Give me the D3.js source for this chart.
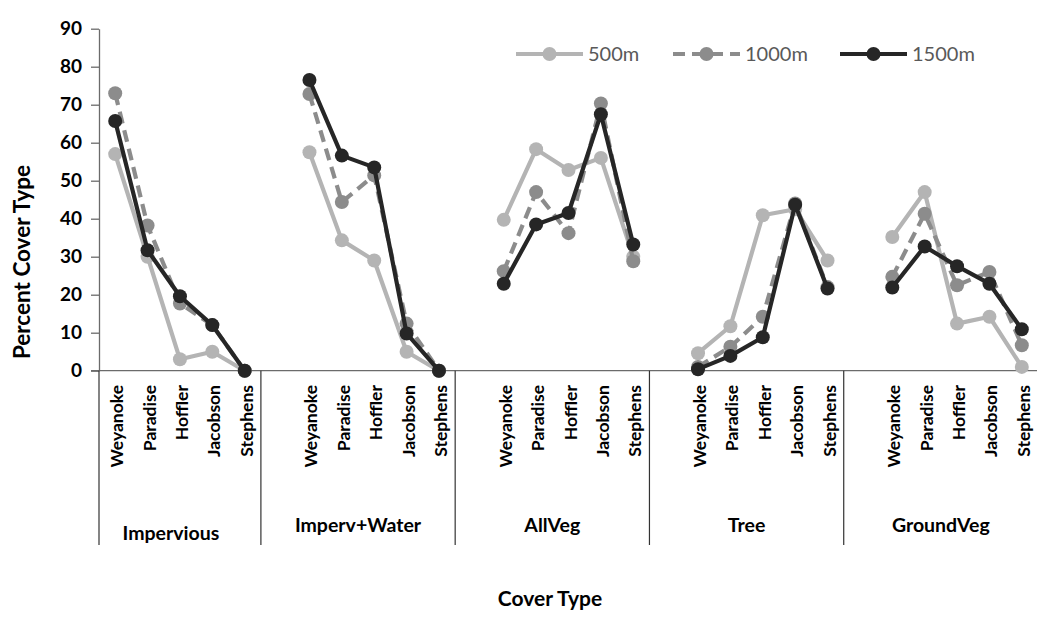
<!DOCTYPE html>
<html><head><meta charset="utf-8">
<script src="https://cdn.jsdelivr.net/npm/d3@7"></script>
<style>body{margin:0;background:#fff}svg{display:block}</style>
</head><body>
<svg id="c" width="1037" height="624"></svg>
<script>
const groups = ["Impervious","Imperv+Water","AllVeg","Tree","GroundVeg"];
const sites = ["Weyanoke","Paradise","Hoffler","Jacobson","Stephens"];
const seriesNames = ["500m","1000m","1500m"];
// values per series, 5 sites per group in group order
const v500  = [57,30,3,5,0,   57.5,34.3,29,5,0,   39.7,58.3,52.8,56,30,   4.6,11.7,40.9,42.5,29,   35.2,47,12.4,14.2,1];
const v1000 = [73,38.2,17.7,12,0,   72.8,44.4,51.4,12.4,0,   26.2,47,36.2,70.3,28.8,   1,6.3,14.2,44,22,   24.7,41.3,22.5,26,6.7];
const v1500 = [65.7,31.7,19.6,12,0,   76.5,56.6,53.5,9.8,0,   22.9,38.5,41.5,67.5,33.2,   0.4,3.9,8.8,43.7,21.6,   21.9,32.7,27.5,22.9,10.9];
const yTicks = [0,10,20,30,40,50,60,70,80,90];

const colors = {"500m":"#b4b4b4","1000m":"#8c8c8c","1500m":"#262626"};
const dashes = {"500m":null,"1000m":"12,7","1500m":null};
const values = {"500m":v500,"1000m":v1000,"1500m":v1500};

const svg = d3.select("#c");
const mLeft = 99, mRight = 1038, mTop = 28.7, mBottom = 370.7, sepBottom = 545;

// slot keys: a blank slot precedes every group but the first
const slots = [];
groups.forEach((g,gi)=>{
  if(gi>0) slots.push("blank"+gi);
  sites.forEach(s=>slots.push(g+"|"+s));
});
const x = d3.scaleBand().domain(slots).range([mLeft,mRight]).padding(0);
const y = d3.scaleLinear().domain([0,90]).range([mBottom,mTop]);

// y axis
const yAxis = svg.append("g").attr("transform",`translate(${mLeft},0)`)
  .call(d3.axisLeft(y).tickValues(yTicks).tickSize(8).tickSizeOuter(0));
yAxis.select(".domain").attr("stroke","#6b6b6b").attr("stroke-width",1.3);
yAxis.selectAll(".tick line").attr("stroke","#6b6b6b").attr("stroke-width",1.3);
yAxis.selectAll(".tick text").attr("font-family","Lato, sans-serif").attr("font-weight","bold")
  .attr("font-size",19).attr("fill","#000").attr("x",-17);

// x axis baseline
svg.append("line").attr("x1",mLeft-8).attr("x2",mRight).attr("y1",mBottom).attr("y2",mBottom)
  .attr("stroke","#6b6b6b").attr("stroke-width",1.3);

// group separators
const seps = [mLeft];
groups.forEach((g,gi)=>{ seps.push(x(g+"|"+sites[4])+x.bandwidth()); });
svg.selectAll(".sep").data(seps).enter().append("line")
  .attr("x1",d=>d).attr("x2",d=>d).attr("y1",mBottom).attr("y2",sepBottom)
  .attr("stroke","#333").attr("stroke-width",1.2);

// site labels
groups.forEach(g=>{
  sites.forEach(s=>{
    const cx = x(g+"|"+s)+x.bandwidth()/2;
    svg.append("text").text(s)
      .attr("transform",`translate(${cx+8},385) rotate(-90)`)
      .attr("text-anchor","end")
      .attr("font-family","Lato, sans-serif").attr("font-weight","bold")
      .attr("font-size",17.5).attr("fill","#000");
  });
});
// group labels (first label sits a little lower/left, as in the source)
groups.forEach((g,gi)=>{
  const x0 = seps[gi], x1 = seps[gi+1];
  svg.append("text").text(g).attr("x",(x0+x1)/2 + (gi===0?-9:0)).attr("y",gi===0?540:532)
    .attr("text-anchor","middle").attr("font-family","Lato, sans-serif")
    .attr("font-weight","bold").attr("font-size",19.5).attr("fill","#000");
});

// series
const line = d3.line().x(d=>d.x).y(d=>d.y);
seriesNames.forEach(sn=>{
  const vals = values[sn];
  const gS = svg.append("g");
  groups.forEach((g,gi)=>{
    const pts = sites.map((s,si)=>({x:x(g+"|"+s)+x.bandwidth()/2, y:y(vals[gi*5+si])}));
    gS.append("path").datum(pts).attr("d",line).attr("fill","none")
      .attr("stroke",colors[sn]).attr("stroke-width",4.2)
      .attr("stroke-dasharray",dashes[sn]).attr("stroke-linejoin","round");
    gS.selectAll(null).data(pts).enter().append("circle")
      .attr("cx",d=>d.x).attr("cy",d=>d.y).attr("r",7).attr("fill",colors[sn]);
  });
});

// legend
const legX = [516,673,840];
seriesNames.forEach((sn,i)=>{
  const lg = svg.append("g").attr("transform",`translate(${legX[i]},54)`);
  lg.append("line").attr("x1",0).attr("x2",67).attr("y1",0).attr("y2",0)
    .attr("stroke",colors[sn]).attr("stroke-width",4.2).attr("stroke-dasharray",dashes[sn]);
  lg.append("circle").attr("cx",33.5).attr("cy",0).attr("r",7).attr("fill",colors[sn]);
  lg.append("text").text(sn).attr("x",72).attr("y",7)
    .attr("font-family","Lato, sans-serif").attr("font-size",20).attr("fill","#595959");
});

// axis titles
svg.append("text").text("Percent Cover Type")
  .attr("transform","translate(30,262) rotate(-90)").attr("text-anchor","middle")
  .attr("font-family","Lato, sans-serif").attr("font-weight","bold").attr("font-size",22.5).attr("fill","#000");
svg.append("text").text("Cover Type").attr("x",550).attr("y",606).attr("text-anchor","middle")
  .attr("font-family","Lato, sans-serif").attr("font-weight","bold").attr("font-size",21).attr("fill","#000");
</script>
</body></html>
